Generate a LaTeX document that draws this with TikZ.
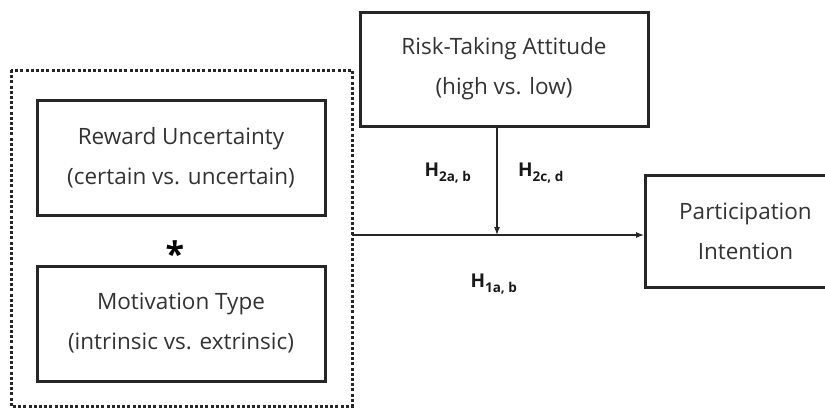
\documentclass[tikz,border=0pt]{standalone}
\usepackage{fontspec}
\setmainfont{Open Sans}
\usetikzlibrary{arrows.meta}
\definecolor{txt}{HTML}{333333}
\tikzset{
  varbox/.style={draw=black!85, line width=3pt, inner sep=0pt, text=txt, align=center,
    font=\fontsize{22.5}{40}\selectfont},
  hlabel/.style={font=\fontsize{19}{22}\selectfont\bfseries, text=black!90, inner sep=0pt},
  conn/.style={draw=black!85, line width=1.1pt, -{Latex[length=8pt,width=6pt]}}
}
\newcommand{\hyp}[2]{H\textsubscript{\fontsize{13.5}{13}\selectfont #1, #2}}
\begin{document}
\begin{tikzpicture}[x=1pt,y=-1pt]
\useasboundingbox (0,0) rectangle (825,408);
\clip (0,0) rectangle (825,408);
% dotted group
\draw[line width=3pt, dash pattern=on 3pt off 2.2pt, black!85] (11,70) rectangle (352,406);
\coordinate (grp) at (352,235);
% boxes
\node[varbox, minimum width=288pt, minimum height=115pt] (rew) at (181,157.5) {Reward Uncertainty\\(certain vs. uncertain)};
\node[font=\fontsize{34}{34}\selectfont\bfseries, inner sep=0pt] (star) at (175,254) {*};
\node[varbox, minimum width=288pt, minimum height=115pt] (mot) at (181,323.5) {Motivation Type\\(intrinsic vs. extrinsic)};
\node[varbox, minimum width=288pt, minimum height=114pt] (risk) at (504,69) {Risk-Taking Attitude\\(high vs. low)};
\node[varbox, minimum width=200pt, minimum height=112pt, anchor=west] (part) at (644,231) {Participation\\Intention};
% connectors
\coordinate (mid) at (497,235);
\draw[conn] (grp) -- (part.west |- grp);
\draw[conn] (risk.south -| mid) -- (mid);
% labels
\node[hlabel] (h2ab) at (448,173) {\hyp{2a}{b}};
\node[hlabel] (h2cd) at (541,173) {\hyp{2c}{d}};
\node[hlabel] (h1ab) at (494,284) {\hyp{1a}{b}};
\end{tikzpicture}
\end{document}
